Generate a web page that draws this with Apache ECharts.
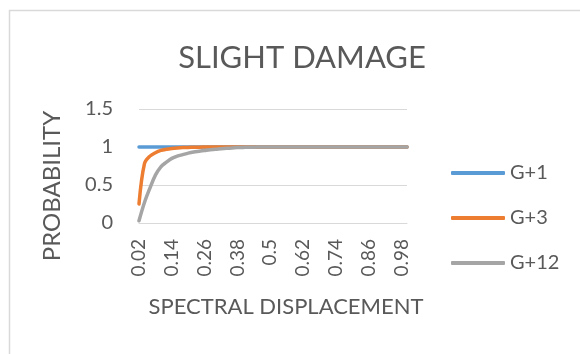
<!DOCTYPE html>
<html>
<head>
<meta charset="utf-8">
<script src="https://cdn.jsdelivr.net/npm/echarts@6/dist/echarts.min.js"></script>
<style>
  html, body { margin: 0; padding: 0; background: #ffffff; }
  #chart { width: 580px; height: 354px; }
</style>
</head>
<body>
<div id="chart"></div>
<script>
// Spectral displacement categories (0.02 ... 1.00)
const categories = [
  '0.02','0.04','0.06','0.08','0.1','0.12','0.14','0.16','0.18','0.2',
  '0.22','0.24','0.26','0.28','0.3','0.32','0.34','0.36','0.38','0.4',
  '0.42','0.44','0.46','0.48','0.5','0.52','0.54','0.56','0.58','0.6',
  '0.62','0.64','0.66','0.68','0.7','0.72','0.74','0.76','0.78','0.8',
  '0.82','0.84','0.86','0.88','0.9','0.92','0.94','0.96','0.98','1'
];

// Probability of slight damage per building height
const g1 = [
  1,1,1,1,1,1,1,1,1,1, 1,1,1,1,1,1,1,1,1,1,
  1,1,1,1,1,1,1,1,1,1, 1,1,1,1,1,1,1,1,1,1,
  1,1,1,1,1,1,1,1,1,1
];
const g3 = [
  0.25,0.78,0.88,0.925,0.955,0.97,0.98,0.987,0.992,0.995,
  0.997,0.998,0.999,1,1,1,1,1,1,1,
  1,1,1,1,1,1,1,1,1,1, 1,1,1,1,1,1,1,1,1,1,
  1,1,1,1,1,1,1,1,1,1
];
const g12 = [
  0.03,0.27,0.46,0.63,0.74,0.80,0.85,0.88,0.90,0.92,
  0.935,0.945,0.955,0.965,0.97,0.977,0.982,0.988,0.992,0.995,
  0.997,0.998,0.999,1,1,1,1,1,1,1,
  1,1,1,1,1,1,1,1,1,1, 1,1,1,1,1,1,1,1,1,1
];

const yTicks = { min: 0, max: 1.5, interval: 0.5 };

const FONT = 'Lato';
const TEXT = '#595959';
const GRID = '#d9d9d9';

function lineSeries(name, data, color) {
  return {
    name: name,
    type: 'line',
    data: data,
    smooth: 0.35,
    showSymbol: false,
    symbol: 'none',
    lineStyle: { color: color, width: 3.5, cap: 'round', join: 'round' },
    itemStyle: { color: color },
    emphasis: { disabled: true }
  };
}

const chart = echarts.init(document.getElementById('chart'), null, { renderer: 'canvas' });
chart.setOption({
  animation: false,
  backgroundColor: '#ffffff',
  title: {
    text: 'SLIGHT DAMAGE',
    left: 297,
    top: 37,
    textAlign: 'center',
    textStyle: { fontFamily: FONT, fontSize: 31, fontWeight: 'normal', color: TEXT }
  },
  grid: { left: 139, right: 173, top: 109, bottom: 131, containLabel: false },
  legend: {
    orient: 'vertical',
    left: 446,
    top: 158,
    itemWidth: 54,
    itemHeight: 4,
    itemGap: 25,
    icon: 'roundRect',
    textStyle: { fontFamily: FONT, fontSize: 20, color: TEXT },
    data: ['G+1', 'G+3', 'G+12']
  },
  xAxis: {
    type: 'category',
    data: categories,
    boundaryGap: false,
    axisLine: { show: true, lineStyle: { color: GRID, width: 1 } },
    axisTick: { show: false },
    axisLabel: {
      interval: 5,
      rotate: 90,
      margin: 16,
      fontFamily: FONT,
      fontSize: 19,
      color: TEXT
    },
    splitLine: { show: false }
  },
  yAxis: {
    type: 'value',
    min: yTicks.min,
    max: yTicks.max,
    interval: yTicks.interval,
    axisLine: { show: false },
    axisTick: { show: false },
    axisLabel: { margin: 26, fontFamily: FONT, fontSize: 20, color: TEXT },
    splitLine: { show: true, lineStyle: { color: GRID, width: 1 } }
  },
  graphic: [
    {
      type: 'rect',
      shape: { x: 9.5, y: 10.5, width: 700, height: 500 },
      style: { fill: 'none', stroke: '#d9d9d9', lineWidth: 1.5 },
      silent: true,
      z: -1
    },
    {
      type: 'text',
      x: 52,
      y: 186,
      rotation: Math.PI / 2,
      style: {
        text: 'PROBABILITY',
        fontFamily: FONT,
        fontSize: 24,
        fill: TEXT,
        align: 'center',
        verticalAlign: 'middle'
      }
    },
    {
      type: 'text',
      x: 286,
      y: 307,
      style: {
        text: 'SPECTRAL DISPLACEMENT',
        fontFamily: FONT,
        fontSize: 22,
        fill: TEXT,
        align: 'center',
        verticalAlign: 'middle'
      }
    }
  ],
  series: [
    lineSeries('G+1', g1, '#5b9bd5'),
    lineSeries('G+3', g3, '#ed7d31'),
    lineSeries('G+12', g12, '#a5a5a5')
  ]
});
</script>
</body>
</html>
